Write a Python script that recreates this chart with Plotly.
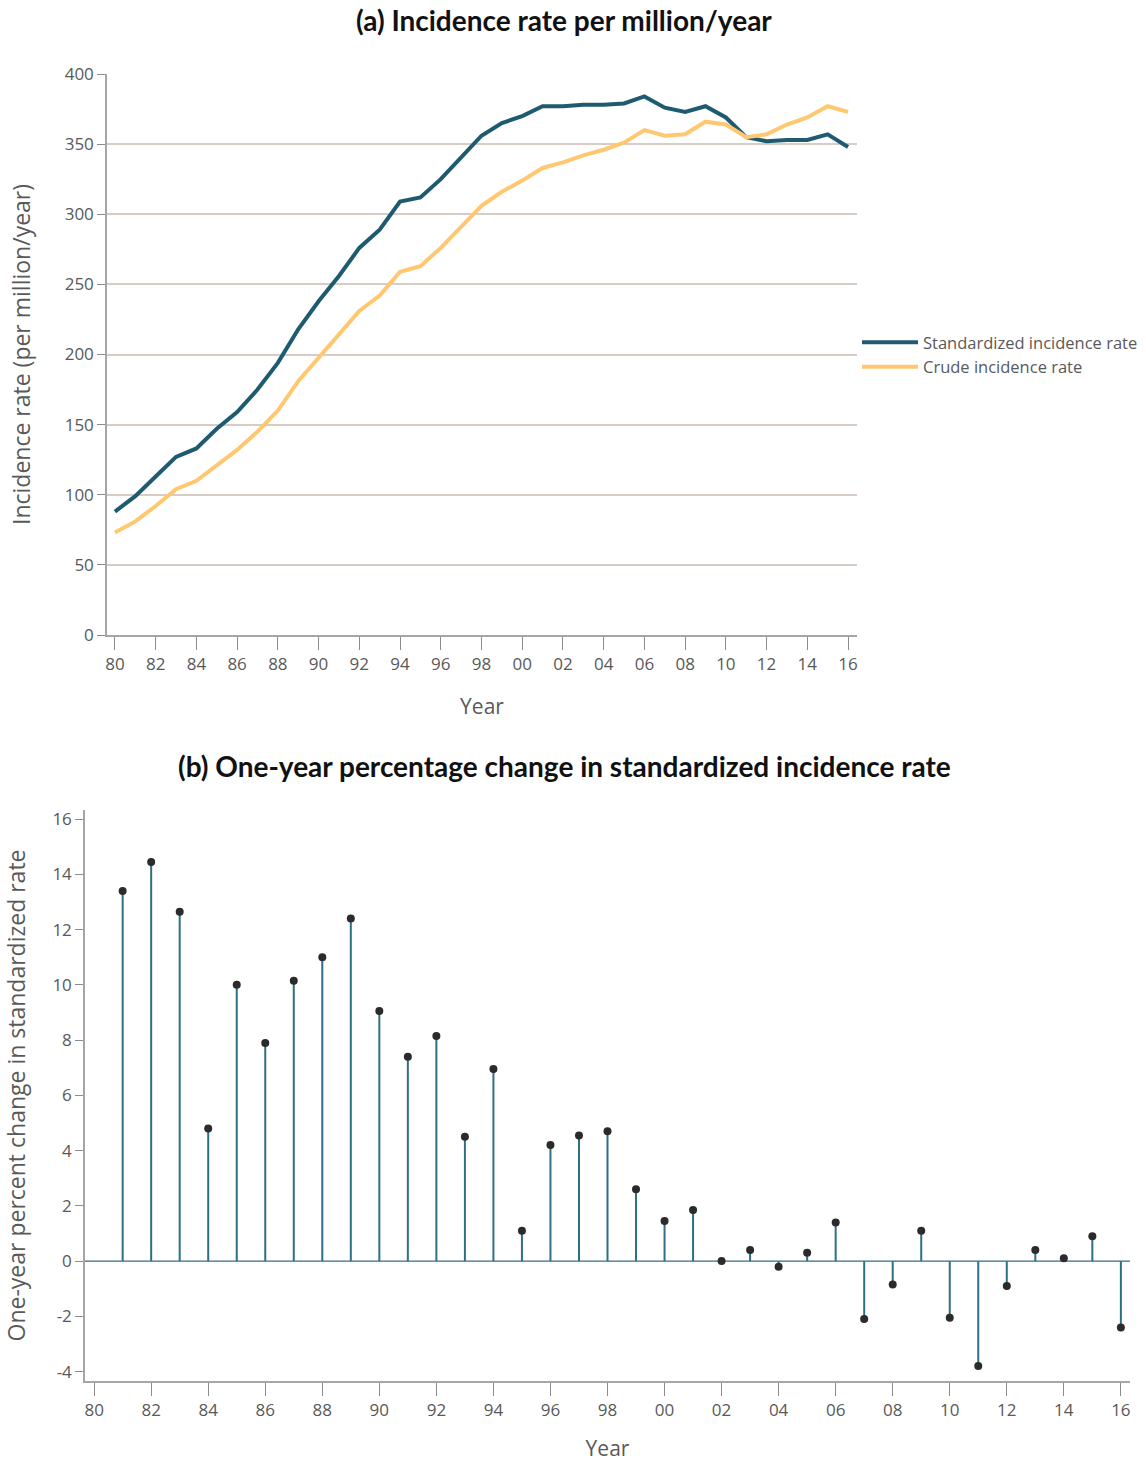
import plotly.graph_objects as go

years = list(range(1980, 2017))
tick_years = list(range(1980, 2017, 2))
tick_labels = ["80", "82", "84", "86", "88", "90", "92", "94", "96", "98",
               "00", "02", "04", "06", "08", "10", "12", "14", "16"]

standardized = [88, 99, 113, 127, 133, 147, 159, 175, 194, 218, 238, 256, 276, 289,
                309, 312, 325, 340, 356, 365, 370, 377, 377, 378, 378, 379, 384, 376,
                373, 377, 369, 355, 352, 353, 353, 357, 348]
crude = [73, 81, 92, 104, 110, 121, 132, 145, 160, 181, 198, 214, 231, 242,
         259, 263, 276, 291, 306, 316, 324, 333, 337, 342, 346, 351, 360, 356,
         357, 366, 364, 355, 357, 364, 369, 377, 373]

change_years = list(range(1981, 2017))
pct_change = [13.4, 14.45, 12.65, 4.8, 10.0, 7.9, 10.15, 11.0, 12.4, 9.05, 7.4, 8.15,
              4.5, 6.95, 1.1, 4.2, 4.55, 4.7, 2.6, 1.45, 1.85, 0.0, 0.4, -0.2, 0.3,
              1.4, -2.1, -0.85, 1.1, -2.05, -3.8, -0.9, 0.4, 0.1, 0.9, -2.4]

y1_ticks = [0, 50, 100, 150, 200, 250, 300, 350, 400]
y2_ticks = [-4, -2, 0, 2, 4, 6, 8, 10, 12, 14, 16]
y2_labels = ["-4", "-2", "0", "2", "4", "6", "8", "10", "12", "14", "16"]

W, H = 1146, 1462
TEAL = "#1f5b70"
ORANGE = "#ffc870"
STEM = "#2f6f85"
DOT = "#2b2b2b"
TICKC = "#595959"
FONT = "Open Sans"
TFONT = "Lato"

fig = go.Figure()

fig.add_trace(go.Scatter(x=years, y=standardized, mode="lines", name="Standardized incidence rate",
                         line=dict(color=TEAL, width=4), xaxis="x", yaxis="y"))
fig.add_trace(go.Scatter(x=years, y=crude, mode="lines", name="Crude incidence rate",
                         line=dict(color=ORANGE, width=4), xaxis="x", yaxis="y"))

# stems
sx, sy = [], []
for yr, v in zip(change_years, pct_change):
    sx += [yr, yr, None]
    sy += [0, v, None]
fig.add_trace(go.Scatter(x=sx, y=sy, mode="lines", line=dict(color=STEM, width=2),
                         showlegend=False, hoverinfo="skip", xaxis="x2", yaxis="y2"))
fig.add_trace(go.Scatter(x=change_years, y=pct_change, mode="markers",
                         marker=dict(color=DOT, size=8), showlegend=False,
                         xaxis="x2", yaxis="y2"))

def px_x(p):
    return p / W

def px_y(p):
    return 1 - p / H

axis_common = dict(showline=True, linecolor="#a6a6a6", linewidth=1.5, ticks="outside",
                   tickcolor="#8c8c8c", tickfont=dict(family=FONT, size=17, color=TICKC),
                   zeroline=False, automargin=False)

fig.update_layout(
    width=W, height=H,
    margin=dict(l=0, r=0, t=0, b=0),
    paper_bgcolor="white", plot_bgcolor="white",
    font=dict(family=FONT, color=TICKC),
    showlegend=True,
    legend=dict(x=px_x(857), y=px_y(325), xanchor="left", yanchor="top",
                font=dict(family=FONT, size=16.5, color=TICKC), bgcolor="rgba(0,0,0,0)",
                tracegroupgap=0, itemwidth=56),
    xaxis=dict(domain=[px_x(107), px_x(857)], range=[1979.61, 2016.44], anchor="y",
               tickvals=tick_years, ticktext=tick_labels, showgrid=False, ticklen=13,
               title=dict(text="Year", font=dict(family=FONT, size=21, color=TICKC), standoff=25),
               **axis_common),
    yaxis=dict(domain=[px_y(635), px_y(74)], range=[0, 400], anchor="x",
               tickvals=y1_ticks, showgrid=True, ticklen=8,
               gridcolor="#d8ccc6", gridwidth=1.5,
               title=dict(text="Incidence rate (per million/year)",
                          font=dict(family=FONT, size=23, color=TICKC), standoff=28),
               **axis_common),
    xaxis2=dict(domain=[px_x(85), px_x(1130)], range=[1979.68, 2016.32], anchor="y2",
                tickvals=tick_years, ticktext=tick_labels, showgrid=False, ticklen=13,
                title=dict(text="Year", font=dict(family=FONT, size=21, color=TICKC), standoff=25),
                **axis_common),
    yaxis2=dict(domain=[px_y(1381), px_y(810)], range=[-4.34, 16.33], anchor="x2",
                tickvals=y2_ticks, ticktext=y2_labels, showgrid=False, ticklen=8,
                title=dict(text="One-year percent change in standardized rate",
                           font=dict(family=FONT, size=23, color=TICKC), standoff=38),
                **axis_common),
    shapes=[dict(type="line", xref="x2 domain", yref="y2", x0=0, x1=1, y0=0, y1=0,
                 line=dict(color=STEM, width=1.2), layer="below")],
    annotations=[
        dict(text="<b>(a) Incidence rate per million/year</b>", x=px_x(564), y=px_y(20),
             xref="paper", yref="paper", xanchor="center", yanchor="middle", showarrow=False,
             font=dict(family=TFONT, size=28, color="#111111")),
        dict(text="<b>(b) One-year percentage change in standardized incidence rate</b>",
             x=px_x(564), y=px_y(766), xref="paper", yref="paper", xanchor="center",
             yanchor="middle", showarrow=False, font=dict(family=TFONT, size=28, color="#111111")),
    ],
)

fig.write_html("out.html", config={"displayModeBar": False},
               post_script="document.body.style.margin='0px';document.body.style.overflow='hidden';")
